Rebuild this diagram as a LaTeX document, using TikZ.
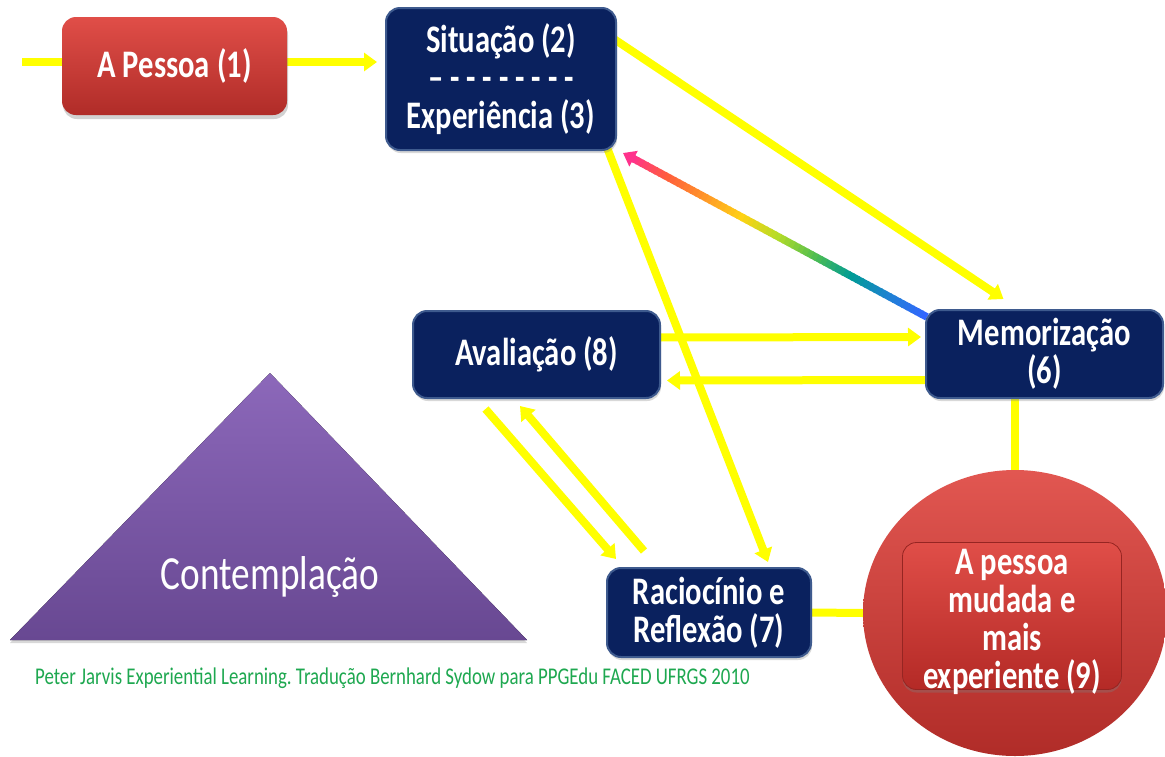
\documentclass[tikz,border=0pt]{standalone}
\usepackage{fontspec}
\setmainfont{Carlito}[FakeStretch=0.785]
\frenchspacing
\usetikzlibrary{arrows.meta,calc,shapes.geometric,shadows,backgrounds}
\definecolor{navy}{RGB}{10,33,94}
\definecolor{navyedge}{RGB}{62,90,142}
\definecolor{redtop}{RGB}{224,78,72}
\definecolor{redbot}{RGB}{176,44,40}
\definecolor{ylw}{RGB}{255,255,0}
\definecolor{purtop}{RGB}{140,104,186}
\definecolor{purbot}{RGB}{104,72,146}
\definecolor{foot}{RGB}{30,168,80}
\definecolor{rb1}{RGB}{51,102,255}
\definecolor{rb2}{RGB}{30,130,210}
\definecolor{rb3}{RGB}{0,155,150}
\definecolor{rb4}{RGB}{80,190,80}
\definecolor{rb5}{RGB}{180,220,40}
\definecolor{rb6}{RGB}{255,210,20}
\definecolor{rb7}{RGB}{255,150,40}
\definecolor{rb8}{RGB}{255,95,60}
\definecolor{rb9}{RGB}{255,50,140}
\tikzset{
  lbl/.style={font=\bfseries\fontsize{39}{38}\selectfont, text=white, align=center, inner sep=0pt},
  navybox/.style={lbl, rectangle, rounded corners=14pt, fill=navy, draw=navyedge, line width=2pt,
    drop shadow={opacity=0.3, shadow xshift=1pt, shadow yshift=-3pt}},
  redbox/.style={lbl, rectangle, rounded corners=14pt, top color=redtop, bottom color=redbot, draw=none,
    drop shadow={opacity=0.35, shadow xshift=1pt, shadow yshift=-4pt}},
  circ/.style={ellipse, inner sep=0pt, top color=redtop!95!white, bottom color=redbot, draw=none},
  innerbox/.style={rectangle, rounded corners=14pt, inner sep=0pt, top color=redtop, bottom color=redbot!95!red,
    draw=redbot!85!black, line width=0.8pt,
    drop shadow={opacity=0.35, shadow xshift=0pt, shadow yshift=-3pt}},
  yarrow/.style={draw=ylw, line width=8pt, -{Triangle[width=18pt,length=13pt]}},
  yline/.style={draw=ylw, line width=8pt},
}
\begin{document}
\begin{tikzpicture}[x=1pt,y=-1pt]
\useasboundingbox (0,0) rectangle (1165,756);

% triangle
\fill[top color=purtop, bottom color=purbot, drop shadow={opacity=0.3, shadow xshift=0pt, shadow yshift=-3pt}]
  (10,640) -- (270,373) -- (527,640) -- cycle;
\node[font=\fontsize{47.5}{47.5}\selectfont, text=white, inner sep=0pt] (contemp) at (270,577) {Contemplação};

% nodes
\node[redbox, minimum width=225pt, minimum height=98pt] (pessoa) at (174.5,66) {A Pessoa (1)};
\node[navybox, minimum width=230pt, minimum height=142pt] (sit) at (501,79)
  {Situação (2)\\-- - - - - - - - -\\Experiência (3)};
\node[navybox, minimum width=237pt, minimum height=88pt] (mem) at (1044.5,354) {Memorização\\(6)};
\node[navybox, minimum width=247pt, minimum height=87pt] (aval) at (536.5,354.5) {Avaliação (8)};
\node[navybox, minimum width=204pt, minimum height=89pt] (rac) at (709,612.5) {Raciocínio e\\Reflexão (7)};
\node[circ, minimum width=304pt, minimum height=286pt] (circ) at (1015,613) {};
\node[innerbox, minimum width=219pt, minimum height=147pt] (inner) at (1012,616) {};
\node[lbl] (nine) at (1012,622) {A pessoa\\mudada e\\mais\\experiente (9)};

\node[anchor=west, text=foot, inner sep=0pt, font=\fontsize{24}{24}\selectfont] (footer) at (35,678)
  {Peter Jarvis Experiential Learning. Tradução Bernhard Sydow para PPGEdu FACED UFRGS 2010};

\coordinate (in) at (22,62);

\begin{pgfonlayer}{background}
  \fill[white] (0,0) rectangle (1165,756);
  \draw[yline] (in) -- ([xshift=10pt,yshift=4pt]pessoa.west);
  \draw[yarrow] ([xshift=-6pt,yshift=4pt]pessoa.east) -- ([xshift=-8pt,yshift=17pt]sit.west);
  \draw[yarrow] ([xshift=-6pt,yshift=42pt]sit.east) -- ([xshift=-41pt,yshift=10pt]mem.north);
  \draw[yarrow] ([xshift=-11pt,yshift=6pt]sit.south east) -- ([xshift=59pt,yshift=5pt]rac.north);
  \draw[yarrow] ([xshift=-4pt,yshift=17pt]aval.east) -- ([xshift=-4pt,yshift=17pt]mem.west);
  \draw[yarrow] ([xshift=4pt,yshift=-26pt]mem.west) -- ([xshift=6pt,yshift=-26pt]aval.east);
  \draw[yarrow] ([xshift=-51pt,yshift=-10pt]aval.south) -- ([xshift=10pt,yshift=8pt]rac.north west);
  \draw[yarrow] ([xshift=38pt,yshift=16pt]rac.north west) -- ([xshift=-16.5pt,yshift=-7pt]aval.south);
  \draw[yline] (rac.east) -- (circ.west);
  \draw[yline] ([xshift=-29.5pt]mem.south) -- (circ.north);

  % rainbow arrow
  \coordinate (rbS) at ([xshift=2pt,yshift=-8pt]mem.north west);
  \coordinate (rbE) at ([xshift=6pt,yshift=-2pt]sit.south east);
  \coordinate (rbM) at ($(rbE)!12pt!(rbS)$);
  \foreach \ca/\cb [count=\k from 0] in {rb1/rb2,rb2/rb3,rb3/rb4,rb4/rb5,rb5/rb6,rb6/rb7,rb7/rb8,rb8/rb9}{
    \foreach \j in {0,...,7}{
      \pgfmathsetmacro\ta{(\k+\j/8)/8}
      \pgfmathsetmacro\tb{(\k+(\j+1.3)/8)/8}
      \pgfmathtruncatemacro\p{100-\j*12.5}
      \draw[line width=7.5pt, draw=\ca!\p!\cb] ($(rbS)!\ta!(rbM)$) -- ($(rbS)!\tb!(rbM)$);
    }
  }
  \draw[line width=7.5pt, draw=rb9, -{Triangle[width=17pt,length=12pt]}] ($(rbE)!14pt!(rbS)$) -- (rbE);
\end{pgfonlayer}
\end{tikzpicture}
\end{document}
